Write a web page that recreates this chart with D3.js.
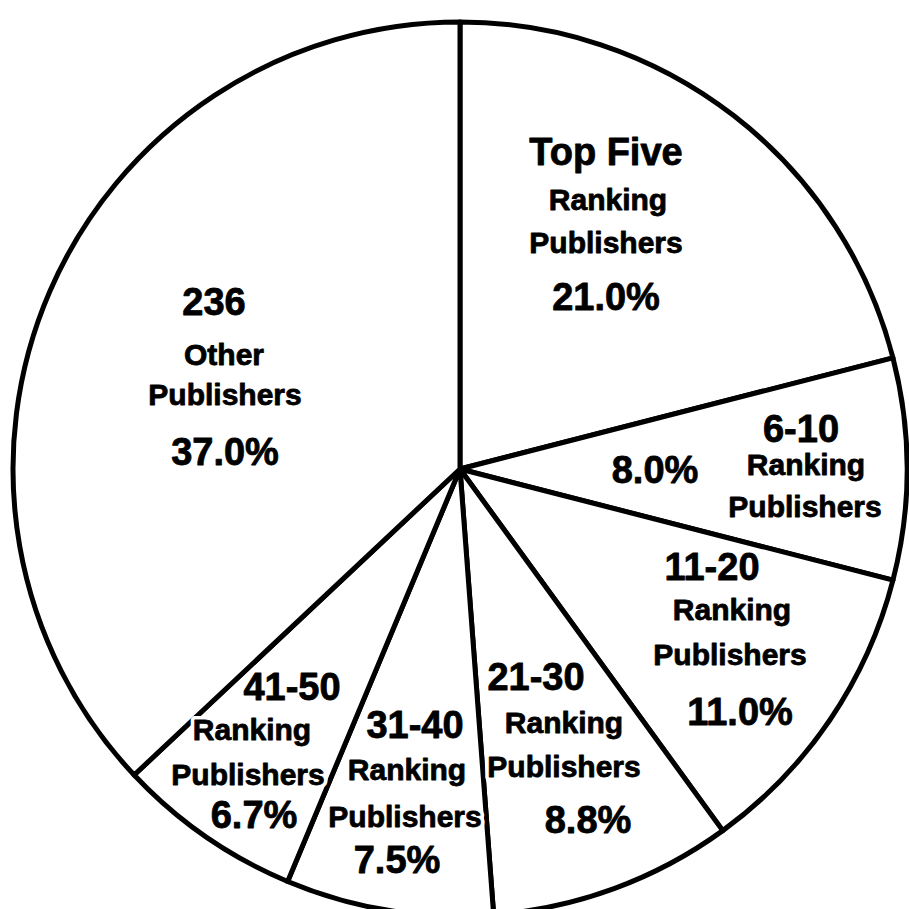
<!DOCTYPE html>
<html>
<head>
<meta charset="utf-8">
<script src="https://cdn.jsdelivr.net/npm/d3@7"></script>
<style>
  html, body { margin: 0; padding: 0; background: #fff; }
  svg { display: block; }
</style>
</head>
<body>
<script>
// ---- data ----
const sliceNames = ["Top Five", "6-10", "11-20", "21-30", "31-40", "41-50", "236"];
const sliceSubtitles = [
  ["Ranking", "Publishers"],
  ["Ranking", "Publishers"],
  ["Ranking", "Publishers"],
  ["Ranking", "Publishers"],
  ["Ranking", "Publishers"],
  ["Ranking", "Publishers"],
  ["Other", "Publishers"]
];
const sliceShares = [21.0, 8.0, 11.0, 8.8, 7.5, 6.7, 37.0];

// ---- layout (label anchors: [centerX, baselineY] for name, subtitle 1, subtitle 2, share) ----
const labelAnchors = [
  [[606, 165], [608, 210], [606, 253], [606, 310]],
  [[801, 442], [806, 475], [805, 517], [655, 483]],
  [[712, 580], [732, 620], [730, 665], [740, 725]],
  [[536, 690], [564, 733], [564, 777], [588, 833]],
  [[415, 738], [407, 780], [405, 827], [397, 873]],
  [[292, 700], [252, 740], [248, 785], [254, 828]],
  [[214, 315], [224, 365], [225, 405], [225, 465]]
];

const W = 909, H = 909;
const cx = 460, cy = 469, R = 447;

const svg = d3.select("body").append("svg")
  .attr("width", W).attr("height", H)
  .attr("viewBox", `0 0 ${W} ${H}`);

svg.append("rect").attr("width", W).attr("height", H).attr("fill", "#fff");

const pie = d3.pie().sort(null).value(d => d).startAngle(0).endAngle(2 * Math.PI);
const arc = d3.arc().innerRadius(0).outerRadius(R);

const g = svg.append("g").attr("transform", `translate(${cx},${cy})`);

g.selectAll("path.slice")
  .data(pie(sliceShares))
  .join("path")
  .attr("class", "slice")
  .attr("d", arc)
  .attr("fill", "#fff")
  .attr("stroke", "#000")
  .attr("stroke-width", 5)
  .attr("stroke-linejoin", "round");

const fmt = d3.format(".1f");

const labelData = [];
sliceNames.forEach((name, i) => {
  const lines = [
    { text: name, head: true },
    { text: sliceSubtitles[i][0], head: false },
    { text: sliceSubtitles[i][1], head: false },
    { text: fmt(sliceShares[i]) + "%", head: true }
  ];
  lines.forEach((ln, j) => {
    labelData.push({ text: ln.text, head: ln.head, x: labelAnchors[i][j][0], y: labelAnchors[i][j][1] });
  });
});

function addLabels(layer, stroke, sw, fill) {
  layer.selectAll("text")
    .data(labelData)
    .join("text")
    .attr("x", d => d.x)
    .attr("y", d => d.y)
    .attr("text-anchor", "middle")
    .attr("font-family", "'Liberation Sans', Arial, sans-serif")
    .attr("font-weight", "bold")
    .attr("font-size", d => d.head ? 38 : 30)
    .attr("fill", fill)
    .attr("stroke", stroke)
    .attr("stroke-width", sw)
    .attr("stroke-linejoin", "round")
    .text(d => d.text);
}
// white halo that interrupts the slice lines, then the heavy black text
addLabels(svg.append("g"), "#fff", 8, "#fff");
addLabels(svg.append("g"), "#000", 0.8, "#000");
</script>
</body>
</html>
